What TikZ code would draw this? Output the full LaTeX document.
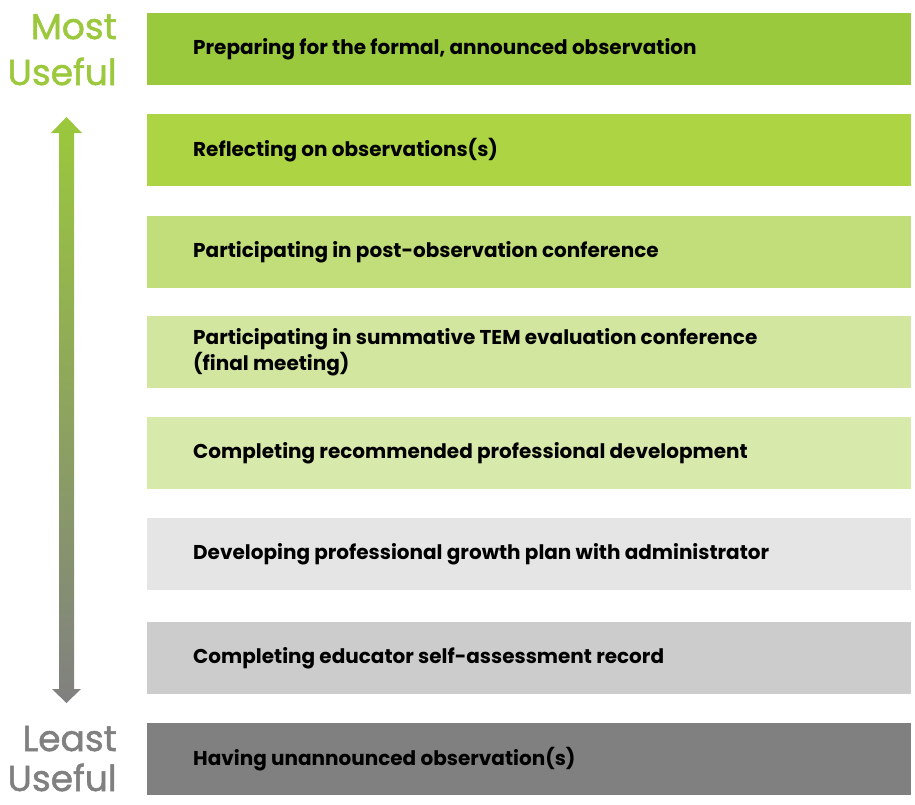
\documentclass[tikz,border=0pt]{standalone}
\usepackage{fontspec}
\setmainfont{Poppins}
\newfontfamily\labelfont{Poppins}[FakeBold=1.4]
\definecolor{cA}{HTML}{9AC93E}
\definecolor{cB}{HTML}{ADD543}
\definecolor{cC}{HTML}{C2DE7B}
\definecolor{cD}{HTML}{D2E6A0}
\definecolor{cE}{HTML}{D8E9AC}
\definecolor{cF}{HTML}{E5E5E5}
\definecolor{cG}{HTML}{CCCCCC}
\definecolor{cH}{HTML}{808080}
\definecolor{lgreen}{HTML}{9BC83C}
\definecolor{lgray}{HTML}{808080}
\begin{document}
\begin{tikzpicture}[x=1pt,y=-1pt,
  bar/.style={draw=none, minimum width=764pt, minimum height=72pt, anchor=north west, inner sep=0pt},
  bartext/.style={anchor=west, inner sep=0pt, align=left, font=\fontsize{20}{26}\selectfont\bfseries, text=black},
  endlabel/.style={anchor=base east, inner sep=0pt, font=\labelfont\fontsize{36}{40}\selectfont}]
\useasboundingbox (0,0) rectangle (915,804);
% bars
\foreach \i/\c/\y in {1/cA/13,2/cB/114,3/cC/216,4/cD/316,5/cE/417,6/cF/518,7/cG/622,8/cH/723}{
  \node[bar, fill=\c] (b\i) at (147,\y) {};
}
\node[bartext] (t1) at ([xshift=46pt]b1.west) {Preparing for the formal, announced observation};
\node[bartext] (t2) at ([xshift=46pt]b2.west) {Reflecting on observations(s)};
\node[bartext] (t3) at ([xshift=46pt]b3.west) {Participating in post-observation conference};
\node[bartext] (t4) at ([xshift=46pt]b4.west) {Participating in summative TEM evaluation conference\\(final meeting)};
\node[bartext] (t5) at ([xshift=46pt]b5.west) {Completing recommended professional development};
\node[bartext] (t6) at ([xshift=46pt]b6.west) {Developing professional growth plan with administrator};
\node[bartext] (t7) at ([xshift=46pt]b7.west) {Completing educator self-assessment record};
\node[bartext] (t8) at ([xshift=46pt]b8.west) {Having unannounced observation(s)};
% end labels
\node[endlabel, text=lgreen] (most) at (117,39) {Most};
\node[endlabel, text=lgreen] (useful1) at (117,85) {Useful};
\node[endlabel, text=lgray] (least) at (117,751) {Least};
\node[endlabel, text=lgray] (useful2) at (117,791) {Useful};
% double arrow
\shade[top color=lgreen, bottom color=lgray]
  (66.5,117) -- (82,133) -- (74,133) -- (74,689) -- (81,689) -- (66.5,703)
  -- (52,689) -- (59,689) -- (59,133) -- (51,133) -- cycle;
\end{tikzpicture}
\end{document}
